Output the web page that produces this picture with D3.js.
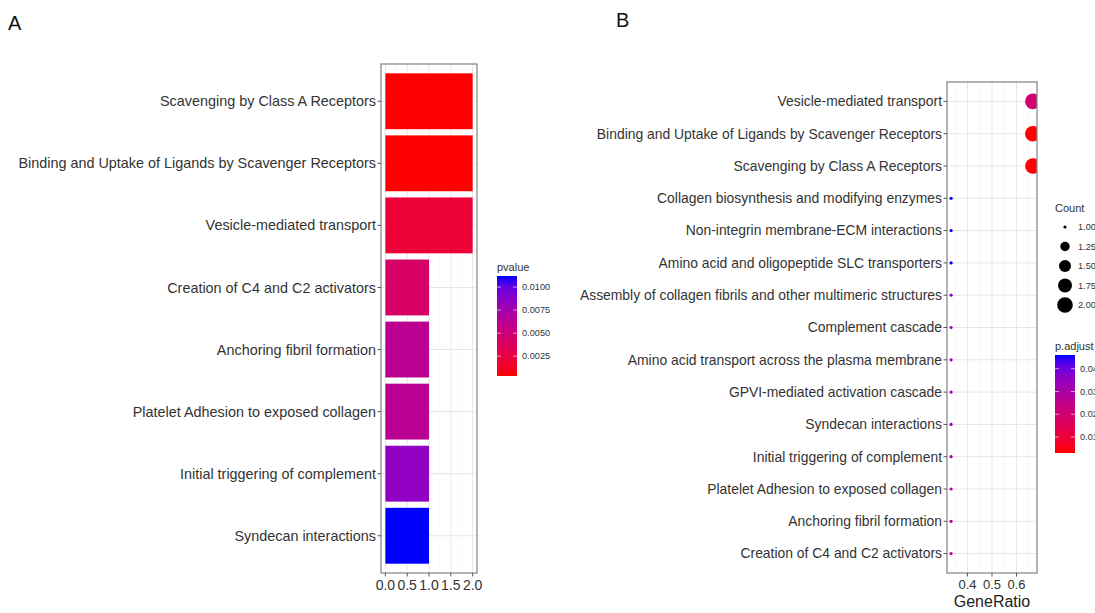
<!DOCTYPE html>
<html>
<head>
<meta charset="utf-8">
<script src="https://cdn.jsdelivr.net/npm/d3@7"></script>
<style>
  html, body { margin: 0; padding: 0; background: #fff; }
  svg { display: block; font-family: "Liberation Sans", Arial, Helvetica, sans-serif; }
</style>
</head>
<body>
<svg id="fig" width="1095" height="613"></svg>
<script>
// ---- Panel A: enrichment bar chart (top to bottom) ----
const pathwaysA = [
  "Scavenging by Class A Receptors",
  "Binding and Uptake of Ligands by Scavenger Receptors",
  "Vesicle-mediated transport",
  "Creation of C4 and C2 activators",
  "Anchoring fibril formation",
  "Platelet Adhesion to exposed collagen",
  "Initial triggering of complement",
  "Syndecan interactions"
];
const countA = [2, 2, 2, 1, 1, 1, 1, 1];
const pvalueA = [0.00035, 0.00035, 0.0020, 0.0041, 0.0062, 0.0063, 0.0085, 0.0112];
const xTicksA = [0, 0.5, 1, 1.5, 2];
const pvalueTicks = [0.0025, 0.005, 0.0075, 0.01];

// ---- Panel B: enrichment dot plot (top to bottom) ----
const pathwaysB = [
  "Vesicle-mediated transport",
  "Binding and Uptake of Ligands by Scavenger Receptors",
  "Scavenging by Class A Receptors",
  "Collagen biosynthesis and modifying enzymes",
  "Non-integrin membrane-ECM interactions",
  "Amino acid and oligopeptide SLC transporters",
  "Assembly of collagen fibrils and other multimeric structures",
  "Complement cascade",
  "Amino acid transport across the plasma membrane",
  "GPVI-mediated activation cascade",
  "Syndecan interactions",
  "Initial triggering of complement",
  "Platelet Adhesion to exposed collagen",
  "Anchoring fibril formation",
  "Creation of C4 and C2 activators"
];
const geneRatioB = [2/3, 2/3, 2/3, 1/3, 1/3, 1/3, 1/3, 1/3, 1/3, 1/3, 1/3, 1/3, 1/3, 1/3, 1/3];
const countB = [2, 2, 2, 1, 1, 1, 1, 1, 1, 1, 1, 1, 1, 1, 1];
const padjB = [0.020, 0.003, 0.003, 0.046, 0.046, 0.046, 0.035, 0.035, 0.035, 0.035, 0.035, 0.029, 0.029, 0.029, 0.029];
const xTicksB = [0.4, 0.5, 0.6];
const xMinorB = [0.35, 0.45, 0.55, 0.65];
const padjTicks = [0.01, 0.02, 0.03, 0.04];
const countTicks = [1.00, 1.25, 1.50, 1.75, 2.00];

const svg = d3.select("#fig");
svg.append("rect").attr("width", 1095).attr("height", 613).attr("fill", "#fff");

const textCol = "#333333";
const gridMajor = "#e6e6e6";
const gridMinor = "#f2f2f2";
const borderCol = "#8c8c8c";
const interp = d3.interpolateLab("#ff0000", "#0000ff");

// continuous axis expansion (5% each side)
function expand(lo, hi) { const d = (hi - lo) * 0.05; return [lo - d, hi + d]; }

// discrete positions with 0.6-unit padding at both ends
function bandCenters(n, top, bottom) {
  return d3.scaleLinear().domain([0.4, n + 0.6]).range([top, bottom]);
}

// ---------------- Panel A ----------------
const A = { left: 381, right: 477, top: 64, bottom: 573 };
const xA = d3.scaleLinear().domain(expand(0, 2)).range([A.left, A.right]);
const yA = bandCenters(pathwaysA.length, A.top, A.bottom);
const unitA = yA(2) - yA(1);
const colA = d3.scaleSequential(interp).domain(d3.extent(pvalueA));

const gA = svg.append("g");
gA.append("rect").attr("x", A.left).attr("y", A.top)
  .attr("width", A.right - A.left).attr("height", A.bottom - A.top).attr("fill", "#fff");

// minor and major grid
gA.selectAll(".minorx").data([0.25, 0.75, 1.25, 1.75]).join("line")
  .attr("x1", d => xA(d)).attr("x2", d => xA(d)).attr("y1", A.top).attr("y2", A.bottom)
  .attr("stroke", gridMinor).attr("stroke-width", 0.6);
gA.selectAll(".majorx").data(xTicksA).join("line")
  .attr("x1", d => xA(d)).attr("x2", d => xA(d)).attr("y1", A.top).attr("y2", A.bottom)
  .attr("stroke", gridMajor).attr("stroke-width", 1);
gA.selectAll(".majory").data(pathwaysA).join("line")
  .attr("x1", A.left).attr("x2", A.right)
  .attr("y1", (d, i) => yA(i + 1)).attr("y2", (d, i) => yA(i + 1))
  .attr("stroke", gridMajor).attr("stroke-width", 1);

// bars
gA.selectAll(".bar").data(pathwaysA).join("rect")
  .attr("x", xA(0))
  .attr("y", (d, i) => yA(i + 1) - unitA * 0.45)
  .attr("width", (d, i) => xA(countA[i]) - xA(0))
  .attr("height", unitA * 0.9)
  .attr("fill", (d, i) => colA(pvalueA[i]));

gA.append("rect").attr("x", A.left).attr("y", A.top)
  .attr("width", A.right - A.left).attr("height", A.bottom - A.top)
  .attr("fill", "none").attr("stroke", borderCol).attr("stroke-width", 1.3);

// y axis labels + ticks
gA.selectAll(".ytick").data(pathwaysA).join("line")
  .attr("x1", A.left - 3.5).attr("x2", A.left)
  .attr("y1", (d, i) => yA(i + 1)).attr("y2", (d, i) => yA(i + 1))
  .attr("stroke", "#555").attr("stroke-width", 1);
gA.selectAll(".ylab").data(pathwaysA).join("text")
  .attr("x", A.left - 5).attr("y", (d, i) => yA(i + 1))
  .attr("dy", "0.35em").attr("text-anchor", "end")
  .attr("font-size", 14.4).attr("fill", textCol).text(d => d);

// x axis
gA.selectAll(".xtick").data(xTicksA).join("line")
  .attr("x1", d => xA(d)).attr("x2", d => xA(d)).attr("y1", A.bottom).attr("y2", A.bottom + 3.5)
  .attr("stroke", "#555").attr("stroke-width", 1);
gA.selectAll(".xlab").data(xTicksA).join("text")
  .attr("x", d => xA(d)).attr("y", A.bottom + 12).attr("dy", "0.35em")
  .attr("text-anchor", "middle").attr("font-size", 14).attr("fill", textCol)
  .text(d => d3.format(".1f")(d));

// gradient colour bar legend
function colourBar(g, x, y, w, h, domain, ticks, fmt, title, titleY) {
  const id = "grad" + title.replace(/\W/g, "");
  const grad = svg.append("defs").append("linearGradient").attr("id", id)
    .attr("x1", 0).attr("x2", 0).attr("y1", 1).attr("y2", 0);
  d3.range(0, 1.0001, 0.1).forEach(t =>
    grad.append("stop").attr("offset", t).attr("stop-color", interp(t)));
  const s = d3.scaleLinear().domain(domain).range([y + h, y]);
  g.append("text").attr("x", x).attr("y", titleY).attr("font-size", 11)
    .attr("fill", textCol).text(title);
  g.append("rect").attr("x", x).attr("y", y).attr("width", w).attr("height", h)
    .attr("fill", `url(#${id})`);
  g.selectAll(null).data(ticks).join("line")
    .attr("x1", x).attr("x2", x + 4).attr("y1", d => s(d)).attr("y2", d => s(d))
    .attr("stroke", "#fff").attr("stroke-opacity", 0.6);
  g.selectAll(null).data(ticks).join("line")
    .attr("x1", x + w - 4).attr("x2", x + w).attr("y1", d => s(d)).attr("y2", d => s(d))
    .attr("stroke", "#fff").attr("stroke-opacity", 0.6);
  g.selectAll(null).data(ticks).join("text")
    .attr("x", x + w + 5).attr("y", d => s(d)).attr("dy", "0.35em")
    .attr("font-size", 9.2).attr("fill", textCol).text(d => fmt(d));
}
colourBar(gA, 497, 276, 20, 100, d3.extent(pvalueA), pvalueTicks, d3.format(".4f"), "pvalue", 271);

// ---------------- Panel B ----------------
const B = { left: 947, right: 1037, top: 82, bottom: 573 };
const xB = d3.scaleLinear().domain(expand(1/3, 2/3)).range([B.left, B.right]);
const yB = bandCenters(pathwaysB.length, B.top, B.bottom);
const colB = d3.scaleSequential(interp).domain(d3.extent(padjB));
const rB = d3.scaleSqrt().domain([0, 1]).range([1.6, 7.8]);
const cExt = d3.extent(countB);
const radius = c => rB((c - cExt[0]) / (cExt[1] - cExt[0]));

const gB = svg.append("g");
gB.append("rect").attr("x", B.left).attr("y", B.top)
  .attr("width", B.right - B.left).attr("height", B.bottom - B.top).attr("fill", "#fff");
gB.selectAll(".minorx").data(xMinorB).join("line")
  .attr("x1", d => xB(d)).attr("x2", d => xB(d)).attr("y1", B.top).attr("y2", B.bottom)
  .attr("stroke", gridMinor).attr("stroke-width", 0.6);
gB.selectAll(".majorx").data(xTicksB).join("line")
  .attr("x1", d => xB(d)).attr("x2", d => xB(d)).attr("y1", B.top).attr("y2", B.bottom)
  .attr("stroke", gridMajor).attr("stroke-width", 1);
gB.selectAll(".majory").data(pathwaysB).join("line")
  .attr("x1", B.left).attr("x2", B.right)
  .attr("y1", (d, i) => yB(i + 1)).attr("y2", (d, i) => yB(i + 1))
  .attr("stroke", gridMajor).attr("stroke-width", 1);

svg.append("defs").append("clipPath").attr("id", "clipB")
  .append("rect").attr("x", B.left).attr("y", B.top)
  .attr("width", B.right - B.left).attr("height", B.bottom - B.top);
gB.append("g").attr("clip-path", "url(#clipB)")
  .selectAll("circle").data(pathwaysB).join("circle")
  .attr("cx", (d, i) => xB(geneRatioB[i]))
  .attr("cy", (d, i) => yB(i + 1))
  .attr("r", (d, i) => radius(countB[i]))
  .attr("fill", (d, i) => colB(padjB[i]));

gB.append("rect").attr("x", B.left).attr("y", B.top)
  .attr("width", B.right - B.left).attr("height", B.bottom - B.top)
  .attr("fill", "none").attr("stroke", borderCol).attr("stroke-width", 1.3);

gB.selectAll(".ytick").data(pathwaysB).join("line")
  .attr("x1", B.left - 3.5).attr("x2", B.left)
  .attr("y1", (d, i) => yB(i + 1)).attr("y2", (d, i) => yB(i + 1))
  .attr("stroke", "#555").attr("stroke-width", 1);
gB.selectAll(".ylab").data(pathwaysB).join("text")
  .attr("x", B.left - 5).attr("y", (d, i) => yB(i + 1))
  .attr("dy", "0.35em").attr("text-anchor", "end")
  .attr("font-size", 13.9).attr("fill", textCol).text(d => d);

gB.selectAll(".xtick").data(xTicksB).join("line")
  .attr("x1", d => xB(d)).attr("x2", d => xB(d)).attr("y1", B.bottom).attr("y2", B.bottom + 3.5)
  .attr("stroke", "#555").attr("stroke-width", 1);
gB.selectAll(".xlab").data(xTicksB).join("text")
  .attr("x", d => xB(d)).attr("y", B.bottom + 11).attr("dy", "0.35em")
  .attr("text-anchor", "middle").attr("font-size", 13).attr("fill", textCol)
  .text(d => d3.format(".1f")(d));
gB.append("text").attr("x", (B.left + B.right) / 2).attr("y", 607)
  .attr("text-anchor", "middle").attr("font-size", 16).attr("fill", "#222").text("GeneRatio");

// Count size legend
const gL = svg.append("g");
gL.append("text").attr("x", 1055).attr("y", 212).attr("font-size", 11).attr("fill", textCol).text("Count");
const legY = d3.scaleLinear().domain([1, 2]).range([227, 305]);
gL.selectAll("circle").data(countTicks).join("circle")
  .attr("cx", 1065).attr("cy", d => legY(d)).attr("r", d => radius(d)).attr("fill", "#000");
gL.selectAll(".cl").data(countTicks).join("text")
  .attr("x", 1078).attr("y", d => legY(d)).attr("dy", "0.35em")
  .attr("font-size", 9.2).attr("fill", textCol).text(d => d3.format(".2f")(d));

// p.adjust colour bar
colourBar(gL, 1055, 355, 20, 98, d3.extent(padjB), padjTicks, d3.format(".2f"), "p.adjust", 350);

// panel tags
svg.append("text").attr("x", 8).attr("y", 30).attr("font-size", 20).attr("fill", "#111").text("A");
svg.append("text").attr("x", 616).attr("y", 27).attr("font-size", 20).attr("fill", "#111").text("B");
</script>
</body>
</html>
